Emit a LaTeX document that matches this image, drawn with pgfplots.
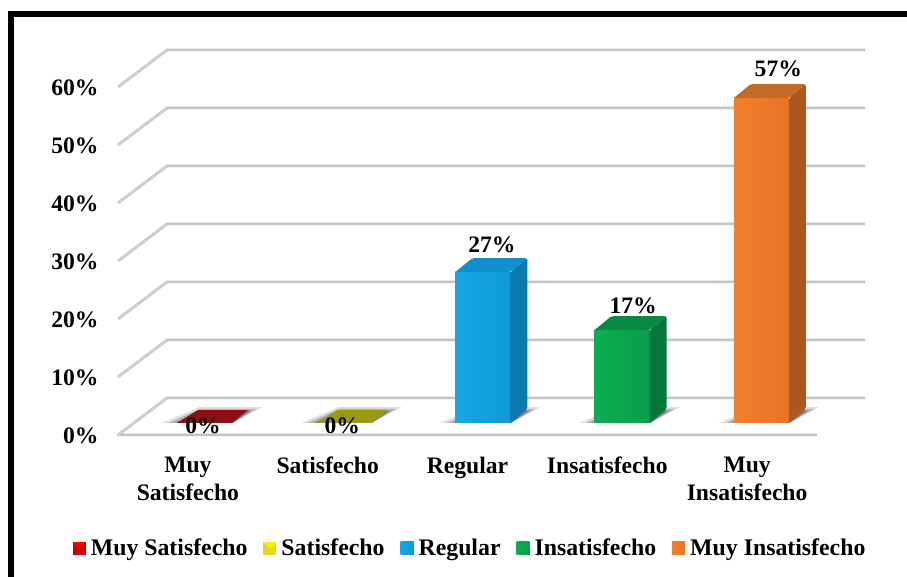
\documentclass[border=0pt]{standalone}
\usepackage{fontspec}
\setmainfont{Liberation Serif}
\usepackage{pgfplots}
\pgfplotsset{compat=1.18}
\definecolor{gridc}{HTML}{B4B4B4}
\definecolor{gridl}{HTML}{E0E0E0}
\definecolor{bluef}{HTML}{14A6E6}\definecolor{bluel}{HTML}{0E9AD8}\definecolor{blues}{HTML}{0B78AE}\definecolor{bluet}{HTML}{0F8FCC}
\definecolor{greenf}{HTML}{0CAC52}\definecolor{greenl}{HTML}{0A9E4A}\definecolor{greens}{HTML}{07763A}\definecolor{greent}{HTML}{078A42}
\definecolor{orangef}{HTML}{F27F2C}\definecolor{orangel}{HTML}{E87426}\definecolor{oranges}{HTML}{A9591F}\definecolor{oranget}{HTML}{C26A26}
\definecolor{redt}{HTML}{8E0E12}\definecolor{olivet}{HTML}{9A9A12}
\newcommand\legsq[2]{\fill[#2] (0pt,-6.5pt) rectangle (13pt,6.5pt);\fill[#1] (0.5pt,6pt) -- (12.5pt,6pt) -- (6.5pt,-1pt) -- cycle;}
\newcommand\shadowat[1]{%
 \pgfmathsetmacro\sa{#1-0.309}\pgfmathsetmacro\sb{#1+0.201}\pgfmathsetmacro\sc{#1+0.417}\pgfmathsetmacro\sd{#1-0.036}%
 \addplot[forget plot,draw=none,fill=black,fill opacity=.12] coordinates {(\sa,0.966)(\sb,0.966)(\sc,3.72)(\sd,3.72)} -- cycle;
 \pgfmathsetmacro\sa{#1-0.26}\pgfmathsetmacro\sc{#1+0.375}\pgfmathsetmacro\sd{#1-0.03}%
 \addplot[forget plot,draw=none,fill=black,fill opacity=.2] coordinates {(\sa,0.966)(\sb,0.966)(\sc,3.4)(\sd,3.4)} -- cycle;
 \pgfmathsetmacro\sa{#1-0.215}\pgfmathsetmacro\sc{#1+0.335}\pgfmathsetmacro\sd{#1-0.02}%
 \addplot[forget plot,draw=none,fill=black,fill opacity=.3] coordinates {(\sa,0.966)(\sb,0.966)(\sc,3.1)(\sd,3.1)} -- cycle;
}
\pgfplotsset{barlabel/.style 2 args={
  point meta=rawy,
  nodes near coords={\pgfmathprintnumber[assume math mode=true,fixed,precision=0]{\pgfplotspointmeta}\%},
  nodes near coords style={anchor=center,black,font=\fontsize{23.6}{28}\selectfont\bfseries,xshift=#1,yshift=#2}}}
\begin{document}
\begin{tikzpicture}
\useasboundingbox (0pt,0pt) rectangle (907pt,577pt);
\fill[black] (7.5pt,0pt) rectangle (13.7pt,566pt);
\fill[black] (7.5pt,560pt) rectangle (907pt,566pt);
% walls, grid and labels
\begin{axis}[
  at={(118pt,142pt)},anchor=south west,scale only axis,
  width=699pt,height=348pt,
  xmin=-0.5,xmax=4.5,ymin=0,ymax=60,clip=false,
  axis line style={draw=none},tick style={draw=none},
  xtick={0,1,2,3,4},
  xticklabels={{Muy\\Satisfecho},Satisfecho,Regular,Insatisfecho,{Muy\\Insatisfecho}},
  ytick={0,10,20,30,40,50,60},
  yticklabels={0\%,10\%,20\%,30\%,40\%,50\%,60\%},
  tick label style={font=\fontsize{23.6}{28}\selectfont\bfseries,black},
  xticklabel style={align=center,anchor=north,yshift=-18.5pt},
  yticklabel style={anchor=east,xshift=-16pt,yshift=-0.8pt},
]
\addplot[draw=gridc,line width=.8pt,double=gridl,double distance=.9pt,line join=round,unbounded coords=jump] coordinates {
 (4.5,0)(-0.5,0)(-0.1495,6.38)(4.8433,6.38)(0,nan)
 (-0.5,10)(-0.1495,16.38)(4.8433,16.38)(0,nan)
 (-0.5,20)(-0.1495,26.38)(4.8433,26.38)(0,nan)
 (-0.5,30)(-0.1495,36.38)(4.8433,36.38)(0,nan)
 (-0.5,40)(-0.1495,46.38)(4.8433,46.38)(0,nan)
 (-0.5,50)(-0.1495,56.38)(4.8433,56.38)(0,nan)
 (-0.5,60)(-0.1495,66.38)(4.8433,66.38)
};
\end{axis}
% bars
\begin{axis}[
  at={(134.9pt,154pt)},anchor=south west,scale only axis,
  width=696pt,height=371.4pt,
  xmin=-0.5,xmax=4.5,ymin=0.966,ymax=65,
  hide axis,
  legend columns=5,
  legend cell align=left,
  legend style={at={(0.482,-0.3366)},anchor=center,draw=none,fill=none,
    font=\fontsize{23.8}{28}\selectfont\bfseries,
    /tikz/every even column/.append style={column sep=13.5pt},
    /tikz/every odd column/.append style={column sep=2.5pt},
    inner sep=0pt,outer sep=0pt,
    /tikz/nodes={inner sep=2.5pt}},
]
\shadowat{0}\shadowat{1}\shadowat{2}\shadowat{3}\shadowat{4}
% series
\addplot[ybar,bar shift=0pt,bar width=55pt,draw=none,fill=red,barlabel={-1.5pt}{-3pt},
  y filter/.expression={max(y,1)},
  legend image code/.code={\legsq{red}{red!82!black}}] coordinates {(0,0)};
\addlegendentry{Muy Satisfecho}
\addplot[ybar,bar shift=0pt,bar width=55pt,draw=none,fill=yellow,barlabel={-1.5pt}{-3pt},
  y filter/.expression={max(y,1)},
  legend image code/.code={\legsq{yellow}{yellow!88!black}}] coordinates {(1,0)};
\addlegendentry{Satisfecho}
\addplot[ybar,bar shift=0pt,bar width=55pt,draw=none,left color=bluef,right color=bluel,barlabel={9pt}{27pt},
  legend image code/.code={\legsq{bluef!70!cyan}{blues}}] coordinates {(2,27)};
\addlegendentry{Regular}
\addplot[ybar,bar shift=0pt,bar width=55pt,draw=none,left color=greenf,right color=greenl,barlabel={11pt}{24.5pt},
  legend image code/.code={\legsq{greenf!85!white}{greens}}] coordinates {(3,17)};
\addlegendentry{Insatisfecho}
\addplot[ybar,bar shift=0pt,bar width=55pt,draw=none,left color=orangef,right color=orangel,barlabel={17pt}{29pt},
  legend image code/.code={\legsq{orangef!85!white}{orangel!85!black}}] coordinates {(4,57)};
\addlegendentry{Muy Insatisfecho}
% flat tops of the zero bars
\addplot[forget plot,draw=none,fill=redt] coordinates {(-0.1976,0.966)(0.1976,0.966)(0.3125,3.2)(-0.0467,3.2)} -- cycle;
\addplot[forget plot,draw=none,fill=olivet] coordinates {(0.8024,0.966)(1.1976,0.966)(1.3125,3.2)(0.9533,3.2)} -- cycle;
% side and top faces
\addplot[forget plot,draw=none,fill=blues,rounded corners=2pt] coordinates {(2.1976,0.966)(2.3197,3.38)(2.3197,29.41)(2.1976,27)} -- cycle;
\addplot[forget plot,draw=none,fill=bluet,rounded corners=2pt] coordinates {(1.8024,27)(2.1976,27)(2.3197,29.41)(1.9245,29.41)} -- cycle;
\addplot[forget plot,draw=none,fill=greens,rounded corners=2pt] coordinates {(3.1976,0.966)(3.3197,3.38)(3.3197,19.41)(3.1976,17)} -- cycle;
\addplot[forget plot,draw=none,fill=greent,rounded corners=2pt] coordinates {(2.8024,17)(3.1976,17)(3.3197,19.41)(2.9245,19.41)} -- cycle;
\addplot[forget plot,draw=none,fill=oranges,rounded corners=2pt] coordinates {(4.1976,0.966)(4.3197,3.38)(4.3197,59.41)(4.1976,57)} -- cycle;
\addplot[forget plot,draw=none,fill=oranget,rounded corners=2pt] coordinates {(3.8024,57)(4.1976,57)(4.3197,59.41)(3.9245,59.41)} -- cycle;
\end{axis}
\end{tikzpicture}
\end{document}
